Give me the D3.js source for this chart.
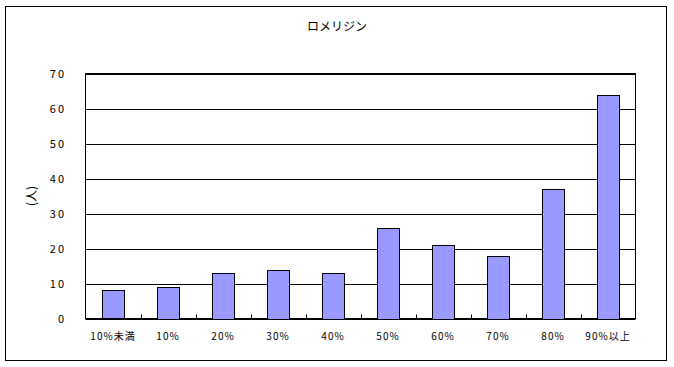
<!DOCTYPE html>
<html>
<head>
<meta charset="utf-8">
<script src="https://cdn.jsdelivr.net/npm/d3@7"></script>
<style>
  body { margin: 0; background: #fff; }
  text { font-family: "Noto Sans CJK JP", "DejaVu Sans", sans-serif; fill: #000; }
</style>
</head>
<body>
<svg id="chart" width="674" height="367"></svg>
<script>
// categories
var categories = ['10%未満', '10%', '20%', '30%', '40%', '50%', '60%', '70%', '80%', '90%以上'];
// number of people
var counts = [8, 9, 13, 14, 13, 26, 21, 18, 37, 64];
// y ticks
var yTicks = [0, 10, 20, 30, 40, 50, 60, 70];

var svg = d3.select('#chart');

// outer frame
svg.append('rect')
   .attr('x', 5.5).attr('y', 6.5)
   .attr('width', 661).attr('height', 354)
   .attr('fill', '#fff').attr('stroke', '#000');

var plotL = 85.5, plotR = 635.5, plotT = 73.5, plotB = 318.5;

var x = d3.scaleBand().domain(categories).range([plotL, plotR]).paddingInner(0).paddingOuter(0);
var y = d3.scaleLinear().domain([0, 70]).range([plotB, plotT]);

// gridlines
svg.append('g')
   .selectAll('line')
   .data(yTicks)
   .enter()
   .append('line')
   .attr('x1', plotL).attr('x2', plotR)
   .attr('y1', function(d) {return Math.round(y(d)) + 0.5})
   .attr('y2', function(d) {return Math.round(y(d)) + 0.5})
   .attr('stroke', '#000');

// plot border
svg.append('rect')
   .attr('x', plotL).attr('y', plotT)
   .attr('width', plotR - plotL).attr('height', plotB - plotT)
   .attr('fill', 'none').attr('stroke', '#000');

// bars
var bw = x.bandwidth() * 0.4;
svg.append('g')
   .selectAll('rect')
   .data(counts)
   .enter()
   .append('rect')
   .attr('x', function(d, i) {return Math.round(x(categories[i]) + x.bandwidth() / 2 - bw / 2) + 0.5})
   .attr('y', function(d) {return Math.round(y(d)) + 0.5})
   .attr('width', Math.round(bw))
   .attr('height', function(d) {return Math.round(plotB - y(d))})
   .attr('fill', '#9999ff')
   .attr('stroke', '#000');

// x tick marks at category boundaries
svg.append('g')
   .selectAll('line')
   .data(categories.slice(1))
   .enter()
   .append('line')
   .attr('x1', function(d) {return Math.round(x(d)) + 0.5})
   .attr('x2', function(d) {return Math.round(x(d)) + 0.5})
   .attr('y1', plotB).attr('y2', plotB - 4)
   .attr('stroke', '#000');

// x labels
svg.append('g')
   .selectAll('text')
   .data(categories)
   .enter()
   .append('text')
   .attr('x', function(d) {return x(d) + x.bandwidth() / 2})
   .attr('y', 340)
   .attr('text-anchor', 'middle')
   .style('font-size', '10px')
   .style('letter-spacing', '1px')
   .text(function(d) {return d});

// y labels
svg.append('g')
   .selectAll('text')
   .data(yTicks)
   .enter()
   .append('text')
   .attr('x', 66)
   .attr('y', function(d) {return y(d) + 4})
   .attr('text-anchor', 'end')
   .style('font-size', '11px')
   .style('letter-spacing', '2px')
   .text(function(d) {return d});

// y axis title
svg.append('text')
   .attr('transform', 'translate(36,196) rotate(-90)')
   .attr('text-anchor', 'middle')
   .style('font-size', '12px')
   .text('(人)');

// title
svg.append('text')
   .attr('x', 337).attr('y', 31)
   .attr('text-anchor', 'middle')
   .style('font-size', '12px')
   .text('ロメリジン');
</script>
</body>
</html>
